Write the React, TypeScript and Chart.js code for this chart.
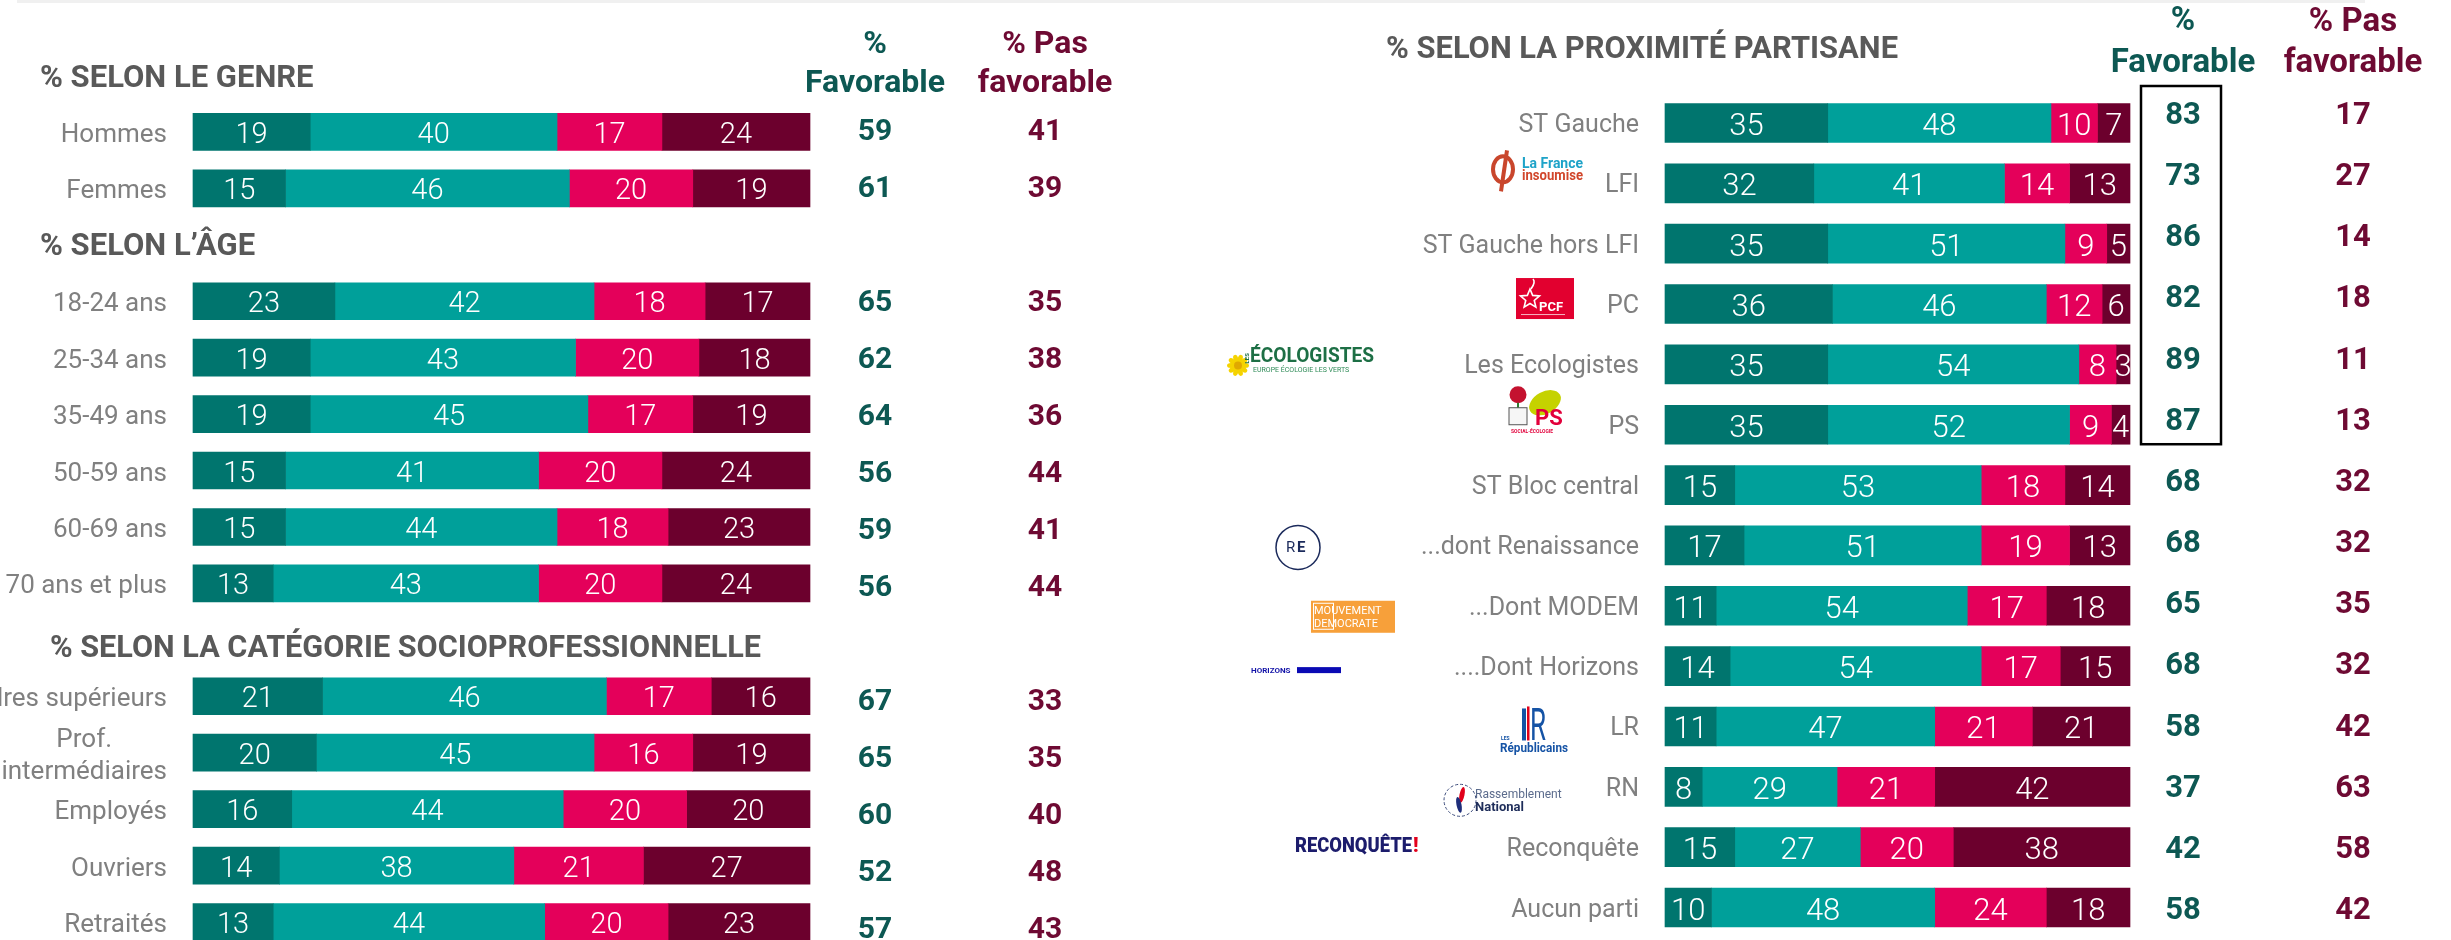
import React, { useEffect, useRef } from "react";
import { Chart, registerables } from "chart.js";
Chart.register(...registerables);

// ---------- DATA ----------
const seriesNames = ["Très favorable", "Plutôt favorable", "Plutôt pas favorable", "Pas du tout favorable"];

// Left panel (null rows are section titles)
const leftLabels = [
  "% SELON LE GENRE", "Hommes", "Femmes",
  "% SELON L’ÂGE", "18-24 ans", "25-34 ans", "35-49 ans", "50-59 ans", "60-69 ans", "70 ans et plus",
  "% SELON LA CATÉGORIE SOCIOPROFESSIONNELLE", "Cadres supérieurs", "Prof.\nintermédiaires", "Employés", "Ouvriers", "Retraités",
];
const leftTresFav = [null, 19, 15, null, 23, 19, 19, 15, 15, 13, null, 21, 20, 16, 14, 13];
const leftPlutotFav = [null, 40, 46, null, 42, 43, 45, 41, 44, 43, null, 46, 45, 44, 38, 44];
const leftPlutotPas = [null, 17, 20, null, 18, 20, 17, 20, 18, 20, null, 17, 16, 20, 21, 20];
const leftPasDuTout = [null, 24, 19, null, 17, 18, 19, 24, 23, 24, null, 16, 19, 20, 27, 23];
const leftFavorable = [null, 59, 61, null, 65, 62, 64, 56, 59, 56, null, 67, 65, 60, 52, 57];
const leftPasFavorable = [null, 41, 39, null, 35, 38, 36, 44, 41, 44, null, 33, 35, 40, 48, 43];

// Right panel
const rightTitle = "% SELON LA PROXIMITÉ PARTISANE";
const rightLabels = [
  "ST Gauche", "LFI", "ST Gauche hors LFI", "PC", "Les Ecologistes", "PS", "ST Bloc central",
  "...dont Renaissance", "...Dont MODEM", "....Dont Horizons", "LR", "RN", "Reconquête", "Aucun parti",
];
const rightTresFav = [35, 32, 35, 36, 35, 35, 15, 17, 11, 14, 11, 8, 15, 10];
const rightPlutotFav = [48, 41, 51, 46, 54, 52, 53, 51, 54, 54, 47, 29, 27, 48];
const rightPlutotPas = [10, 14, 9, 12, 8, 9, 18, 19, 17, 17, 21, 21, 20, 24];
const rightPasDuTout = [7, 13, 5, 6, 3, 4, 14, 13, 18, 15, 21, 42, 38, 18];
const rightFavorable = [83, 73, 86, 82, 89, 87, 68, 68, 65, 68, 58, 37, 42, 58];
const rightPasFavorable = [17, 27, 14, 18, 11, 13, 32, 32, 35, 32, 42, 63, 58, 42];

// ---------- STYLE ----------
const SERIES_COLORS = ["#00756e", "#00a09a", "#e4005a", "#6c002d"];
const FAV_COLOR = "#0d5853";
const PAS_COLOR = "#6e0a33";
const TITLE_COLOR = "#595959";
const LABEL_COLOR = "#808080";
const FONT = "Roboto, 'Open Sans', sans-serif";
const RIGHT_OFFSET = 1225;
const rightLogoKeys = ["", "LFI", "", "PCF", "ECO", "PS", "", "RE", "MODEM", "HORIZONS", "LR", "RN", "RECONQUETE", ""];

function text(ctx: CanvasRenderingContext2D, s: string, x: number, y: number, font: string, color: string, align: CanvasTextAlign = "left", maxWidth?: number) {
  ctx.font = font;
  ctx.fillStyle = color;
  ctx.textAlign = align;
  ctx.textBaseline = "alphabetic";
  if (maxWidth) ctx.fillText(s, x, y, maxWidth);
  else ctx.fillText(s, x, y);
}

function drawBarValues(chart: any, font: string, dy: number) {
  const ctx = chart.ctx as CanvasRenderingContext2D;
  chart.data.datasets.forEach((ds: any, di: number) => {
    const meta = chart.getDatasetMeta(di);
    meta.data.forEach((bar: any, j: number) => {
      const v = ds.data[j];
      if (v == null) return;
      const p = bar.getProps(["x", "y", "base"], true);
      text(ctx, String(v), (p.x + p.base) / 2, p.y + dy, font, "#ffffff", "center");
    });
  });
}

const leftTitleStyle: Record<number, { x: number; dy: number; w: number }> = {
  0: { x: 40, dy: 11, w: 279 },
  3: { x: 40, dy: 10, w: 224 },
  10: { x: 50, dy: 17, w: 711 },
};

const leftPlugin = {
  id: "leftDecor",
  afterDatasetsDraw(chart: any) {
    drawBarValues(chart, `300 29px ${FONT}`, 11);
  },
  afterDraw(chart: any) {
    const ctx = chart.ctx as CanvasRenderingContext2D;
    const ys = chart.scales.y;
    ctx.save();
    ctx.fillStyle = "#f0f0f0";
    ctx.fillRect(17, 0, RIGHT_OFFSET - 17, 3);
    const hf = `bold 32px ${FONT}`;
    text(ctx, "%", 875, 53, hf, FAV_COLOR, "center");
    text(ctx, "Favorable", 875, 92, hf, FAV_COLOR, "center");
    text(ctx, "% Pas", 1045, 53, hf, PAS_COLOR, "center");
    text(ctx, "favorable", 1045, 92, hf, PAS_COLOR, "center");
    leftLabels.forEach((lab, i) => {
      const y = ys.getPixelForValue(i);
      if (leftTresFav[i] == null) {
        const st = leftTitleStyle[i] || { x: 40, dy: 11, w: 800 };
        text(ctx, lab, st.x, y + st.dy, `bold 31px ${FONT}`, TITLE_COLOR, "left", st.w);
        return;
      }
      const lines = lab.split("\n");
      const lf = `26px ${FONT}`;
      ctx.font = lf;
      const bw = Math.max(...lines.map((l) => ctx.measureText(l).width));
      lines.forEach((l, k) => {
        const by = y + 10 - (lines.length - 1) * 16 + k * 32;
        if (lines.length === 1) text(ctx, l, 167, by, lf, LABEL_COLOR, "right");
        else text(ctx, l, 167 - bw / 2, by, lf, LABEL_COLOR, "center");
      });
      const ndy = 8 + (8 * (i - 1)) / 14;
      text(ctx, String(leftFavorable[i]), 875, y + ndy, `bold 30px ${FONT}`, FAV_COLOR, "center");
      text(ctx, String(leftPasFavorable[i]), 1045, y + ndy, `bold 30px ${FONT}`, PAS_COLOR, "center");
    });
    ctx.restore();
  },
};

function star(ctx: CanvasRenderingContext2D, cx: number, cy: number, r: number) {
  ctx.beginPath();
  for (let k = 0; k < 10; k++) {
    const a = -Math.PI / 2 + (k * Math.PI) / 5;
    const rr = k % 2 === 0 ? r : r * 0.45;
    const px = cx + rr * Math.cos(a);
    const py = cy + rr * Math.sin(a);
    if (k === 0) ctx.moveTo(px, py);
    else ctx.lineTo(px, py);
  }
  ctx.closePath();
}

function drawLogo(ctx: CanvasRenderingContext2D, key: string, cy: number) {
  ctx.save();
  switch (key) {
    case "LFI": {
      ctx.strokeStyle = "#c9462c";
      ctx.lineWidth = 4;
      ctx.beginPath();
      ctx.ellipse(1503, cy - 14, 10, 13, 0, 0, Math.PI * 2);
      ctx.stroke();
      ctx.beginPath();
      ctx.moveTo(1507, cy - 33);
      ctx.lineTo(1501, cy + 8);
      ctx.stroke();
      text(ctx, "La France", 1522, cy - 15.5, `bold 14px ${FONT}`, "#1ea3c8", "left", 61);
      text(ctx, "insoumise", 1522, cy - 3.5, `bold 14px ${FONT}`, "#d1462b", "left", 61);
      break;
    }
    case "PCF": {
      ctx.fillStyle = "#e2002f";
      ctx.fillRect(1516, cy - 26, 58, 41);
      ctx.strokeStyle = "#ffffff";
      ctx.lineWidth = 1.6;
      star(ctx, 1530, cy - 5, 10);
      ctx.stroke();
      ctx.beginPath();
      ctx.moveTo(1531, cy - 15);
      ctx.quadraticCurveTo(1536, cy - 22, 1533, cy - 25);
      ctx.stroke();
      text(ctx, "PCF", 1539, cy + 7, `bold 13px ${FONT}`, "#ffffff", "left", 26);
      ctx.fillStyle = "rgba(255,255,255,0.7)";
      ctx.fillRect(1521, cy + 10, 44, 1);
      break;
    }
    case "ECO": {
      ctx.fillStyle = "#f5d300";
      for (let k = 0; k < 10; k++) {
        const a = (k * Math.PI) / 5;
        ctx.beginPath();
        ctx.ellipse(1238 + 7 * Math.cos(a), cy + 1 + 7 * Math.sin(a), 4, 2.5, a, 0, Math.PI * 2);
        ctx.fill();
      }
      ctx.fillStyle = "#e0a800";
      ctx.beginPath();
      ctx.arc(1238, cy + 1, 4, 0, Math.PI * 2);
      ctx.fill();
      ctx.save();
      ctx.translate(1249, cy - 1);
      ctx.rotate(-Math.PI / 2);
      text(ctx, "LES", 0, 0, `bold 6px ${FONT}`, "#1d6f45", "left", 14);
      ctx.restore();
      text(ctx, "ÉCOLOGISTES", 1250, cy - 2, `bold 20px ${FONT}`, "#1d6f45", "left", 124);
      text(ctx, "EUROPE ÉCOLOGIE LES VERTS", 1253, cy + 8, `7px ${FONT}`, "#2e8b57", "left", 120);
      break;
    }
    case "PS": {
      ctx.fillStyle = "#c5d200";
      ctx.beginPath();
      ctx.ellipse(1545, cy - 22, 17, 11, -0.5, 0, Math.PI * 2);
      ctx.fill();
      ctx.fillStyle = "#c4122f";
      ctx.beginPath();
      ctx.arc(1518, cy - 30, 8.5, 0, Math.PI * 2);
      ctx.fill();
      ctx.fillStyle = "#2f7d32";
      ctx.fillRect(1517, cy - 22, 2, 6);
      ctx.fillStyle = "#f6f6f6";
      ctx.strokeStyle = "#555555";
      ctx.lineWidth = 1;
      ctx.fillRect(1509, cy - 17, 18, 17);
      ctx.strokeRect(1509, cy - 17, 18, 17);
      text(ctx, "PS", 1535, cy + 0, `bold 22px ${FONT}`, "#e2003b", "left", 31);
      text(ctx, "SOCIAL-ÉCOLOGIE", 1511, cy + 8, `bold 5px ${FONT}`, "#e2003b", "left", 42);
      break;
    }
    case "RE": {
      ctx.strokeStyle = "#1b2a5b";
      ctx.lineWidth = 1.5;
      ctx.beginPath();
      ctx.arc(1298, cy + 2, 22, 0, Math.PI * 2);
      ctx.stroke();
      text(ctx, "R", 1286, cy + 7, `15px ${FONT}`, "#1b2a5b", "left");
      text(ctx, "E", 1297, cy + 7, `bold 15px ${FONT}`, "#1b2a5b", "left");
      break;
    }
    case "MODEM": {
      ctx.fillStyle = "#f7a03a";
      ctx.fillRect(1311, cy - 5, 84, 32);
      ctx.strokeStyle = "#ffffff";
      ctx.lineWidth = 1;
      ctx.strokeRect(1313.5, cy - 2.5, 20, 26);
      text(ctx, "MOUVEMENT", 1314, cy + 8, `11px ${FONT}`, "#ffffff", "left", 78);
      text(ctx, "DEMOCRATE", 1314, cy + 21, `11px ${FONT}`, "#ffffff", "left", 72);
      break;
    }
    case "HORIZONS": {
      text(ctx, "HORIZONS", 1251, cy + 7, `bold 8px ${FONT}`, "#1414a8", "left", 44);
      ctx.fillStyle = "#0a0ab4";
      ctx.fillRect(1297, cy + 1, 44, 6);
      break;
    }
    case "LR": {
      ctx.fillStyle = "#1553a5";
      ctx.fillRect(1522, cy - 18, 4, 32);
      ctx.fillStyle = "#e2001a";
      ctx.fillRect(1527, cy - 20, 2.5, 34);
      text(ctx, "R", 1530, cy + 14, `44px ${FONT}`, "#1553a5", "left", 16);
      text(ctx, "LES", 1501, cy + 14, `bold 5px ${FONT}`, "#1553a5", "left", 12);
      text(ctx, "Républicains", 1500, cy + 26, `bold 12px ${FONT}`, "#1553a5", "left", 68);
      break;
    }
    case "RN": {
      ctx.strokeStyle = "#3a4a7a";
      ctx.lineWidth = 1;
      ctx.setLineDash([3, 2]);
      ctx.beginPath();
      ctx.arc(1460, cy + 13.5, 16, 0, Math.PI * 2);
      ctx.stroke();
      ctx.setLineDash([]);
      ctx.fillStyle = "#e1001a";
      ctx.beginPath();
      ctx.ellipse(1462, cy + 8, 2.5, 8, 0.2, 0, Math.PI * 2);
      ctx.fill();
      ctx.fillStyle = "#1e2d7a";
      ctx.beginPath();
      ctx.ellipse(1459, cy + 18, 2.5, 8, -0.2, 0, Math.PI * 2);
      ctx.fill();
      text(ctx, "Rassemblement", 1475, cy + 11.5, `12px ${FONT}`, "#5b6b8c", "left", 97);
      text(ctx, "National", 1475, cy + 24.5, `bold 13px ${FONT}`, "#1e2d5a", "left", 50);
      break;
    }
    case "RECONQUETE": {
      text(ctx, "RECONQUÊTE", 1295, cy + 5, `900 20px ${FONT}`, "#1c1c6c", "left", 117);
      text(ctx, "!", 1413, cy + 5, `900 20px ${FONT}`, "#e3001b", "left");
      break;
    }
  }
  ctx.restore();
}

const rightPlugin = {
  id: "rightDecor",
  afterDatasetsDraw(chart: any) {
    drawBarValues(chart, `300 31px ${FONT}`, 12);
  },
  afterDraw(chart: any) {
    const ctx = chart.ctx as CanvasRenderingContext2D;
    const ys = chart.scales.y;
    ctx.save();
    ctx.translate(-RIGHT_OFFSET, 0);
    ctx.fillStyle = "#f0f0f0";
    ctx.fillRect(RIGHT_OFFSET, 0, 2365 - RIGHT_OFFSET, 3);
    text(ctx, rightTitle, 1386, 58, `bold 32px ${FONT}`, TITLE_COLOR, "left", 512);
    const hf = `bold 33px ${FONT}`;
    text(ctx, "%", 2183, 30, hf, FAV_COLOR, "center");
    text(ctx, "Favorable", 2183, 72, hf, FAV_COLOR, "center");
    text(ctx, "% Pas", 2353, 31, hf, PAS_COLOR, "center");
    text(ctx, "favorable", 2353, 72, hf, PAS_COLOR, "center");
    const n = rightLabels.length;
    rightLabels.forEach((lab, i) => {
      const y = ys.getPixelForValue(i);
      text(ctx, lab, 1639, y + 9, `25px ${FONT}`, LABEL_COLOR, "right");
      const ndy = 1 + (10.5 * i) / (n - 1);
      text(ctx, String(rightFavorable[i]), 2183, y + ndy, `bold 31px ${FONT}`, FAV_COLOR, "center");
      text(ctx, String(rightPasFavorable[i]), 2353, y + ndy, `bold 31px ${FONT}`, PAS_COLOR, "center");
      if (rightLogoKeys[i]) drawLogo(ctx, rightLogoKeys[i], y);
    });
    // highlight box around the left-wing favourable scores
    const yTop = ys.getPixelForValue(0) - 37;
    const yBot = ys.getPixelForValue(5) + 19.5;
    ctx.strokeStyle = "#000000";
    ctx.lineWidth = 2.5;
    ctx.strokeRect(2141, yTop, 80, yBot - yTop);
    ctx.restore();
  },
};

function buildConfig(labels: string[], series: (number | null)[][], thickness: number, padding: any, plugin: any): any {
  return {
    type: "bar",
    data: {
      labels,
      datasets: series.map((d, i) => ({
        label: seriesNames[i],
        data: d,
        backgroundColor: SERIES_COLORS[i],
        borderWidth: 0,
        barThickness: thickness,
        clip: false,
      })),
    },
    options: {
      indexAxis: "y",
      responsive: false,
      animation: false,
      devicePixelRatio: 1,
      layout: { padding },
      plugins: { legend: { display: false }, tooltip: { enabled: false }, title: { display: false } },
      scales: {
        x: { stacked: true, min: 0, max: 100, display: false },
        y: { stacked: true, offset: false, display: false },
      },
    },
    plugins: [plugin],
  };
}

export default function App() {
  const leftRef = useRef<HTMLCanvasElement>(null);
  const rightRef = useRef<HTMLCanvasElement>(null);
  useEffect(() => {
    const left = new Chart(
      leftRef.current as HTMLCanvasElement,
      buildConfig(leftLabels, [leftTresFav, leftPlutotFav, leftPlutotPas, leftPasDuTout], 37,
        { left: 193, right: RIGHT_OFFSET - 810, top: 75.5, bottom: 940 - 922 }, leftPlugin)
    );
    const right = new Chart(
      rightRef.current as HTMLCanvasElement,
      buildConfig(rightLabels, [rightTresFav, rightPlutotFav, rightPlutotPas, rightPasDuTout], 39,
        { left: 1665 - RIGHT_OFFSET, right: 2451 - 2130, top: 123, bottom: 940 - 907.5 }, rightPlugin)
    );
    return () => {
      left.destroy();
      right.destroy();
    };
  }, []);
  return (
    <div style={{ position: "fixed", left: 0, top: 0, width: 2451, height: 940, background: "#ffffff", overflow: "hidden" }}>
      <canvas ref={leftRef} width={RIGHT_OFFSET} height={940} style={{ position: "absolute", left: 0, top: 0, width: RIGHT_OFFSET, height: 940 }} />
      <canvas ref={rightRef} width={2451 - RIGHT_OFFSET} height={940} style={{ position: "absolute", left: RIGHT_OFFSET, top: 0, width: 2451 - RIGHT_OFFSET, height: 940 }} />
    </div>
  );
}
